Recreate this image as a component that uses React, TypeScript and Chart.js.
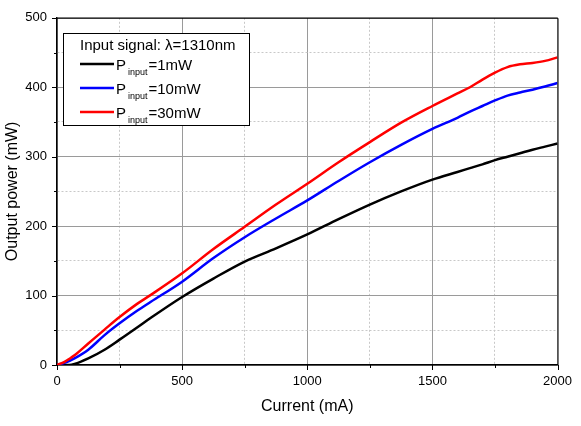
import React, { useEffect, useRef } from 'react';
import { Chart, registerables } from 'chart.js';

Chart.register(...registerables);

const currentMA = [0, 30, 50, 70, 125, 190, 250, 320, 375, 500, 625, 750, 875, 1000, 1125, 1250, 1375, 1500, 1600, 1650, 1700, 1750, 1800, 1850, 1900, 1950, 2000];
const power1mW = [0, 0, 0, 1.4, 9.5, 22, 36.5, 54, 68, 98, 124.5, 149, 168, 188, 210, 231, 250, 267, 278, 283.5, 289, 295, 300, 305, 310, 314.5, 319];
const power10mW = [0, 3, 6, 9.5, 22, 43, 60, 78, 91, 120, 154, 184, 211, 237, 265, 292, 317, 340, 356, 365, 373, 381, 388, 392.5, 396.5, 401, 406];
const power30mW = [0, 4.5, 9, 14, 31, 51, 69, 88, 101, 132, 167, 199, 231, 261, 292, 321, 349, 373, 391, 400, 411, 421, 429, 433, 435, 438, 443];
const inputPowers = ['1mW', '10mW', '30mW'];
const seriesColors = ['#000000', '#0000ff', '#ff0000'];
const legendTitle = 'Input signal: \u03bb=1310nm';
const xTitle = 'Current (mA)';
const yTitle = 'Output power (mW)';
const xTickStep = 250;
const yTickStep = 50;

const FONT = "'Liberation Sans', Arial, sans-serif";

const framePlugin = {
  id: 'frameTicks',
  afterDraw(chart: any) {
    const { ctx, chartArea } = chart;
    const xs = chart.scales.x;
    const ys = chart.scales.y;
    ctx.save();
    ctx.strokeStyle = '#000';
    ctx.lineWidth = 1;
    ctx.beginPath();
    ctx.moveTo(chartArea.left, chartArea.top + 0.5);
    ctx.lineTo(chartArea.right + 0.5, chartArea.top + 0.5);
    ctx.lineTo(chartArea.right + 0.5, chartArea.bottom);
    ctx.stroke();
    ctx.beginPath();
    for (let v = 0; v <= 500; v += yTickStep) {
      const y = Math.round(ys.getPixelForValue(v)) + 0.5;
      const len = v % 100 === 0 ? 5 : 3;
      ctx.moveTo(chartArea.left - len, y);
      ctx.lineTo(chartArea.left, y);
    }
    for (let v = 0; v <= 2000; v += xTickStep) {
      const x = Math.round(xs.getPixelForValue(v)) + 0.5;
      const len = v % 500 === 0 ? 5 : 3;
      ctx.moveTo(x, chartArea.bottom);
      ctx.lineTo(x, chartArea.bottom + len);
    }
    ctx.stroke();
    ctx.restore();
  },
};

const legendPlugin = {
  id: 'customLegend',
  afterDraw(chart: any) {
    const { ctx } = chart;
    const bx = 63.5, by = 33.5, bw = 186, bh = 92;
    ctx.save();
    ctx.fillStyle = '#fff';
    ctx.fillRect(bx, by, bw, bh);
    ctx.strokeStyle = '#000';
    ctx.lineWidth = 1;
    ctx.strokeRect(bx, by, bw, bh);
    ctx.fillStyle = '#000';
    ctx.textBaseline = 'alphabetic';
    ctx.textAlign = 'left';
    ctx.font = `15px ${FONT}`;
    ctx.fillText(legendTitle, 80, 50);
    chart.data.datasets.forEach((ds: any, i: number) => {
      const ly = 64 + i * 24;
      ctx.strokeStyle = ds.borderColor;
      ctx.lineWidth = 2.5;
      ctx.beginPath();
      ctx.moveTo(80, ly);
      ctx.lineTo(114, ly);
      ctx.stroke();
      ctx.fillStyle = '#000';
      ctx.font = `15px ${FONT}`;
      ctx.fillText('P', 116, ly + 6);
      const pw = ctx.measureText('P').width;
      ctx.font = `9px ${FONT}`;
      ctx.fillText('input', 116 + pw + 2, ly + 11);
      const sw = ctx.measureText('input').width;
      ctx.font = `15px ${FONT}`;
      ctx.fillText('=' + inputPowers[i], 116 + pw + 2 + sw + 1, ly + 6);
    });
    ctx.restore();
  },
};

export default function App() {
  const canvasRef = useRef<HTMLCanvasElement | null>(null);

  useEffect(() => {
    document.body.style.margin = '0';
    const canvas = canvasRef.current;
    if (!canvas) return;
    const series = [power1mW, power10mW, power30mW];
    const chart = new Chart(canvas, {
      type: 'line',
      data: {
        datasets: series.map((vals, i) => ({
          label: 'Pinput=' + inputPowers[i],
          data: currentMA.map((x, j) => ({ x, y: vals[j] })),
          borderColor: seriesColors[i],
          backgroundColor: seriesColors[i],
          borderWidth: 2.5,
          pointRadius: 0,
          cubicInterpolationMode: 'monotone' as const,
          fill: false,
          order: 3 - i,
        })),
      },
      options: {
        responsive: false,
        animation: false,
        devicePixelRatio: 1,
        layout: { padding: { left: 0, right: 20, top: 14, bottom: 0 } },
        plugins: {
          legend: { display: false },
          tooltip: { enabled: false },
        },
        font: { family: FONT },
        scales: {
          x: {
            type: 'linear',
            min: 0,
            max: 2000,
            afterFit: (s: any) => { s.height = 61; },
            ticks: {
              stepSize: xTickStep,
              autoSkip: false,
              maxRotation: 0,
              padding: 9,
              color: '#000',
              font: { size: 13, family: FONT },
              callback: (v: any) => (Number(v) % 500 === 0 ? String(v) : ''),
            },
            grid: {
              drawTicks: false,
              color: (c: any) => (c.tick && c.tick.value % 500 !== 0 ? '#c8c8c8' : '#9a9a9a'),
              lineWidth: 1,
            },
            border: {
              display: true,
              color: '#000',
              width: 1.5,
              dash: (c: any) => (c.tick && c.tick.value % 500 !== 0 ? [2, 2] : []),
            },
            title: {
              display: true,
              text: xTitle,
              color: '#000',
              font: { size: 16, family: FONT },
              padding: { top: 0, bottom: 10 },
            },
          },
          y: {
            type: 'linear',
            min: 0,
            max: 500,
            afterFit: (s: any) => { s.width = 57; },
            ticks: {
              stepSize: yTickStep,
              autoSkip: false,
              padding: 10,
              color: '#000',
              font: { size: 13, family: FONT },
              callback: (v: any) => (Number(v) % 100 === 0 ? String(v) : ''),
            },
            grid: {
              drawTicks: false,
              color: (c: any) => (c.tick && c.tick.value % 100 !== 0 ? '#c8c8c8' : '#9a9a9a'),
              lineWidth: 1,
            },
            border: {
              display: true,
              color: '#000',
              width: 1.5,
              dash: (c: any) => (c.tick && c.tick.value % 100 !== 0 ? [2, 2] : []),
            },
            title: {
              display: true,
              text: yTitle,
              color: '#000',
              font: { size: 16, family: FONT },
              padding: { top: 3, bottom: 0 },
            },
          },
        },
      },
      plugins: [framePlugin, legendPlugin],
    } as any);
    return () => chart.destroy();
  }, []);

  return (
    <div style={{ width: 581, height: 426, background: '#fff' }}>
      <canvas ref={canvasRef} width={581} height={426} style={{ display: 'block' }} />
    </div>
  );
}
